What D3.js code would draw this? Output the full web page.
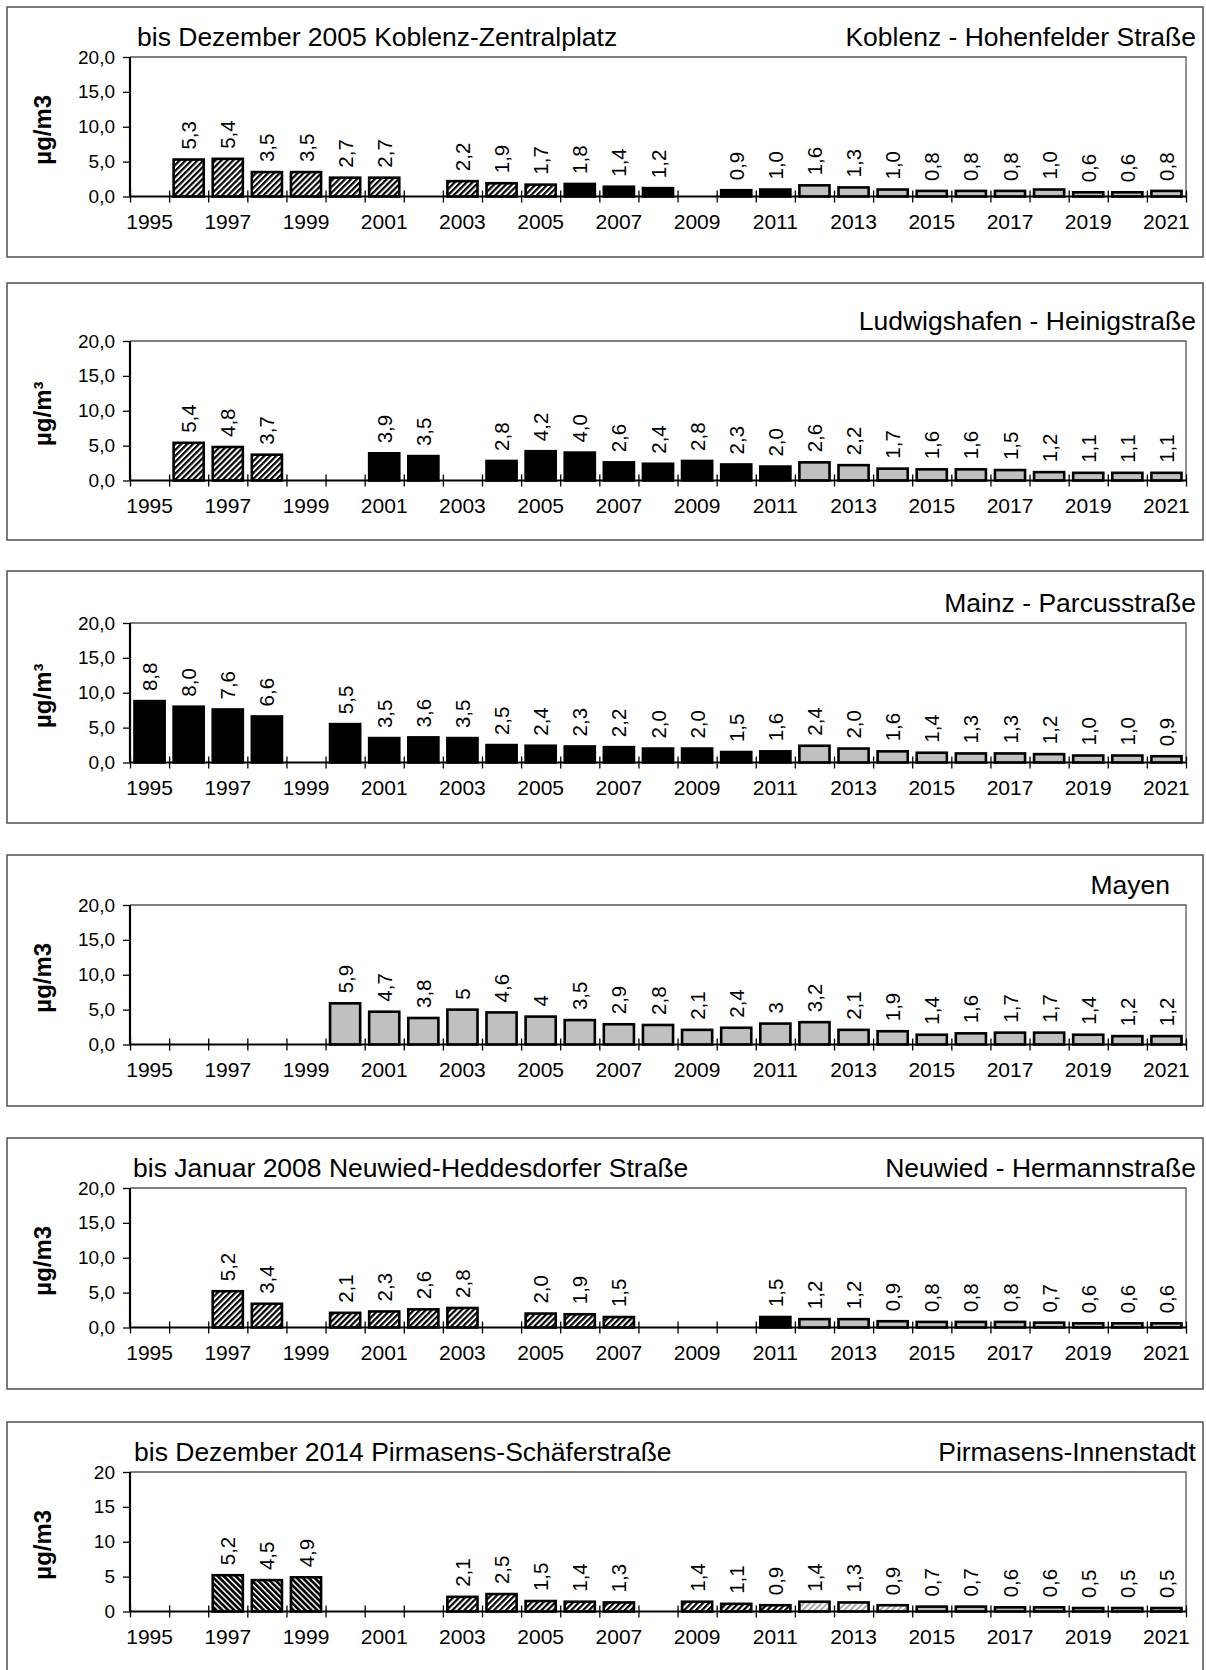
<!DOCTYPE html>
<html><head><meta charset="utf-8">
<script src="https://cdn.jsdelivr.net/npm/d3@7"></script>
<style>
body{margin:0;background:#fff}
svg{display:block}
text{font-family:"Liberation Sans", Arial, sans-serif; fill:#000}
</style>
</head><body>
<svg id="chart" width="1206" height="1670"></svg>
<script>
const N = null;
const years = [1995,1996,1997,1998,1999,2000,2001,2002,2003,2004,2005,2006,2007,2008,2009,2010,2011,2012,2013,2014,2015,2016,2017,2018,2019,2020,2021];
const yearTickLabels = [1995,1997,1999,2001,2003,2005,2007,2009,2011,2013,2015,2017,2019,2021];
const yTickValues = [0,5,10,15,20];

// Koblenz
const koblenzZentralplatz = [N,5.3,5.4,3.5,3.5,2.7,2.7,N,2.2,1.9,1.7,N,N,N,N,N,N,N,N,N,N,N,N,N,N,N,N];
const koblenzHohenfelder  = [N,N,N,N,N,N,N,N,N,N,N,1.8,1.4,1.2,N,0.9,1.0,N,N,N,N,N,N,N,N,N,N];
const koblenzHohenfelderNeu = [N,N,N,N,N,N,N,N,N,N,N,N,N,N,N,N,N,1.6,1.3,1.0,0.8,0.8,0.8,1.0,0.6,0.6,0.8];
// Ludwigshafen
const ludwigshafenAlt = [N,5.4,4.8,3.7,N,N,N,N,N,N,N,N,N,N,N,N,N,N,N,N,N,N,N,N,N,N,N];
const ludwigshafenHeinig = [N,N,N,N,N,N,3.9,3.5,N,2.8,4.2,4.0,2.6,2.4,2.8,2.3,2.0,N,N,N,N,N,N,N,N,N,N];
const ludwigshafenHeinigNeu = [N,N,N,N,N,N,N,N,N,N,N,N,N,N,N,N,N,2.6,2.2,1.7,1.6,1.6,1.5,1.2,1.1,1.1,1.1];
// Mainz
const mainzParcus = [8.8,8.0,7.6,6.6,N,5.5,3.5,3.6,3.5,2.5,2.4,2.3,2.2,2.0,2.0,1.5,1.6,N,N,N,N,N,N,N,N,N,N];
const mainzParcusNeu = [N,N,N,N,N,N,N,N,N,N,N,N,N,N,N,N,N,2.4,2.0,1.6,1.4,1.3,1.3,1.2,1.0,1.0,0.9];
// Mayen
const mayen = [N,N,N,N,N,5.9,4.7,3.8,5,4.6,4,3.5,2.9,2.8,2.1,2.4,3,3.2,2.1,1.9,1.4,1.6,1.7,1.7,1.4,1.2,1.2];
// Neuwied
const neuwiedHeddesdorfer = [N,N,5.2,3.4,N,2.1,2.3,2.6,2.8,N,2.0,1.9,1.5,N,N,N,N,N,N,N,N,N,N,N,N,N,N];
const neuwiedHermann = [N,N,N,N,N,N,N,N,N,N,N,N,N,N,N,N,1.5,N,N,N,N,N,N,N,N,N,N];
const neuwiedHermannNeu = [N,N,N,N,N,N,N,N,N,N,N,N,N,N,N,N,N,1.2,1.2,0.9,0.8,0.8,0.8,0.7,0.6,0.6,0.6];
// Pirmasens
const pirmasensFrueh = [N,N,5.2,4.5,4.9,N,N,N,N,N,N,N,N,N,N,N,N,N,N,N,N,N,N,N,N,N,N];
const pirmasensSchaefer = [N,N,N,N,N,N,N,N,2.1,2.5,1.5,1.4,1.3,N,1.4,1.1,0.9,N,N,N,N,N,N,N,N,N,N];
const pirmasensSchaeferNeu = [N,N,N,N,N,N,N,N,N,N,N,N,N,N,N,N,N,1.4,1.3,0.9,N,N,N,N,N,N,N];
const pirmasensInnenstadt = [N,N,N,N,N,N,N,N,N,N,N,N,N,N,N,N,N,N,N,N,0.7,0.7,0.6,0.6,0.5,0.5,0.5];

const de = d3.formatLocale({decimal: ",", thousands: ".", grouping: [3], currency: ["", " €"]});
const fmt1 = de.format(".1f");
const fmtGeneral = v => String(v).replace(".", ",");
const fmt0 = de.format("d");

const panels = [
  {top:7, bottom:257, plotTop:57, leftTitle:"bis Dezember 2005 Koblenz-Zentralplatz", leftX:137,
   rightTitle:"Koblenz - Hohenfelder Straße", rightX:1196, unit:"µg/m3", yFmt:fmt1, labelFmt:fmt1,
   series:[[koblenzZentralplatz,"hatch"],[koblenzHohenfelder,"black"],[koblenzHohenfelderNeu,"gray"]]},
  {top:283, bottom:540, plotTop:341, leftTitle:null,
   rightTitle:"Ludwigshafen - Heinigstraße", rightX:1196, unit:"µg/m³", yFmt:fmt1, labelFmt:fmt1,
   series:[[ludwigshafenAlt,"hatch"],[ludwigshafenHeinig,"black"],[ludwigshafenHeinigNeu,"gray"]]},
  {top:571, bottom:823, plotTop:623, leftTitle:null,
   rightTitle:"Mainz - Parcusstraße", rightX:1196, unit:"µg/m³", yFmt:fmt1, labelFmt:fmt1,
   series:[[mainzParcus,"black"],[mainzParcusNeu,"gray"]]},
  {top:855, bottom:1106, plotTop:905, leftTitle:null,
   rightTitle:"Mayen", rightX:1170, unit:"µg/m3", yFmt:fmt1, labelFmt:fmtGeneral,
   series:[[mayen,"gray"]]},
  {top:1138, bottom:1389, plotTop:1188, leftTitle:"bis Januar 2008 Neuwied-Heddesdorfer Straße", leftX:133,
   rightTitle:"Neuwied - Hermannstraße", rightX:1196, unit:"µg/m3", yFmt:fmt1, labelFmt:fmt1,
   series:[[neuwiedHeddesdorfer,"hatch"],[neuwiedHermann,"black"],[neuwiedHermannNeu,"gray"]]},
  {top:1422, bottom:1675, plotTop:1472, leftTitle:"bis Dezember 2014 Pirmasens-Schäferstraße", leftX:134,
   rightTitle:"Pirmasens-Innenstadt", rightX:1196, unit:"µg/m3", yFmt:fmt0, labelFmt:fmt1,
   series:[[pirmasensFrueh,"hatchBack"],[pirmasensSchaefer,"hatch"],[pirmasensSchaeferNeu,"hatchLight"],[pirmasensInnenstadt,"gray"]]}
];

const svg = d3.select("#chart");
const defs = svg.append("defs");
function stripePattern(id, angle, period, stripe, color, bg){
  const p = defs.append("pattern").attr("id", id).attr("patternUnits","userSpaceOnUse")
    .attr("width", period).attr("height", period).attr("patternTransform", `rotate(${angle})`);
  p.append("rect").attr("width", period).attr("height", period).attr("fill", bg);
  p.append("rect").attr("width", stripe).attr("height", period).attr("fill", color);
}
stripePattern("hatch", 45, 4.2, 2.2, "#000", "#fff");
stripePattern("hatchBack", -45, 4.2, 2.7, "#000", "#fff");
stripePattern("hatchLight", 45, 4.2, 2.0, "#a8a8a8", "#fff");
const fills = {hatch:"url(#hatch)", hatchBack:"url(#hatchBack)", hatchLight:"url(#hatchLight)", black:"#000", gray:"#c0c0c0"};

const plotLeft = 130, plotRight = 1186, plotH = 139.5;
const x = d3.scaleBand().domain(years).range([plotLeft, plotRight]).paddingInner(0.23).paddingOuter(0.115);
const slot = d3.scaleLinear().domain([0, years.length]).range([plotLeft, plotRight]);

panels.forEach(p => {
  const g = svg.append("g");
  const zero = p.plotTop + plotH;
  const y = d3.scaleLinear().domain([0, 20]).range([zero, p.plotTop]);

  g.append("rect").attr("x", 7).attr("y", p.top).attr("width", 1196).attr("height", p.bottom - p.top)
    .attr("fill", "none").attr("stroke", "#444").attr("stroke-width", 1.4);

  // plot frame top & right
  g.append("path").attr("d", `M${plotLeft},${p.plotTop}H${plotRight}V${zero}`)
    .attr("fill", "none").attr("stroke", "#555").attr("stroke-width", 1.3);

  // titles
  if (p.leftTitle) g.append("text").attr("x", p.leftX).attr("y", p.plotTop - 11)
    .attr("font-size", 26.5).text(p.leftTitle);
  g.append("text").attr("x", p.rightX).attr("y", p.plotTop - 11).attr("text-anchor", "end")
    .attr("font-size", 26.5).text(p.rightTitle);

  // unit
  g.append("text").attr("transform", `translate(42,${(p.plotTop + zero) / 2 + 3}) rotate(-90)`)
    .attr("text-anchor", "middle").attr("dominant-baseline", "central")
    .attr("font-size", 24).attr("font-weight", "bold").text(p.unit);

  // bars
  p.series.forEach(([data, kind]) => {
    const rows = years.map((yr, i) => ({yr, v: data[i]})).filter(d => d.v !== null);
    g.selectAll(null).data(rows).join("rect")
      .attr("x", d => x(d.yr)).attr("width", x.bandwidth())
      .attr("y", d => y(d.v)).attr("height", d => zero - y(d.v))
      .attr("fill", fills[kind]).attr("stroke", "#000").attr("stroke-width", 2.6);
    g.selectAll(null).data(rows).join("text")
      .attr("transform", d => `translate(${x(d.yr) + x.bandwidth() / 2},${y(d.v) - 10}) rotate(-90)`)
      .attr("dominant-baseline", "central").attr("font-size", 20.5)
      .text(d => p.labelFmt(d.v));
  });

  // y axis
  const ya = g.append("g").attr("transform", `translate(${plotLeft},0)`)
    .call(d3.axisLeft(y).tickValues(yTickValues).tickSize(7).tickPadding(8).tickFormat(p.yFmt));
  ya.select(".domain").attr("stroke", "#000").attr("stroke-width", 2.2).attr("d", `M0,${p.plotTop}V${zero}`);
  ya.selectAll(".tick line").attr("stroke", "#000").attr("stroke-width", 1.3);
  ya.selectAll(".tick text").attr("font-size", 19).attr("font-family", "Liberation Sans, Arial, sans-serif").attr("fill", "#000");

  // x axis: boundary ticks
  const xb = g.append("g").attr("transform", `translate(0,${zero})`)
    .call(d3.axisBottom(slot).tickValues(d3.range(years.length + 1)).tickSize(6).tickFormat(""));
  xb.select(".domain").attr("stroke", "#000").attr("stroke-width", 2.2).attr("d", `M${plotLeft},0H${plotRight}`);
  xb.selectAll(".tick line").attr("y1", -6).attr("y2", 6).attr("stroke", "#000").attr("stroke-width", 1.3);

  // x axis: year labels
  const xl = g.append("g").attr("transform", `translate(0,${zero})`)
    .call(d3.axisBottom(x).tickValues(yearTickLabels).tickSize(0).tickPadding(18));
  xl.select(".domain").remove();
  xl.selectAll(".tick text").attr("font-size", 21).attr("font-family", "Liberation Sans, Arial, sans-serif").attr("fill", "#000");
});
</script>
</body></html>
